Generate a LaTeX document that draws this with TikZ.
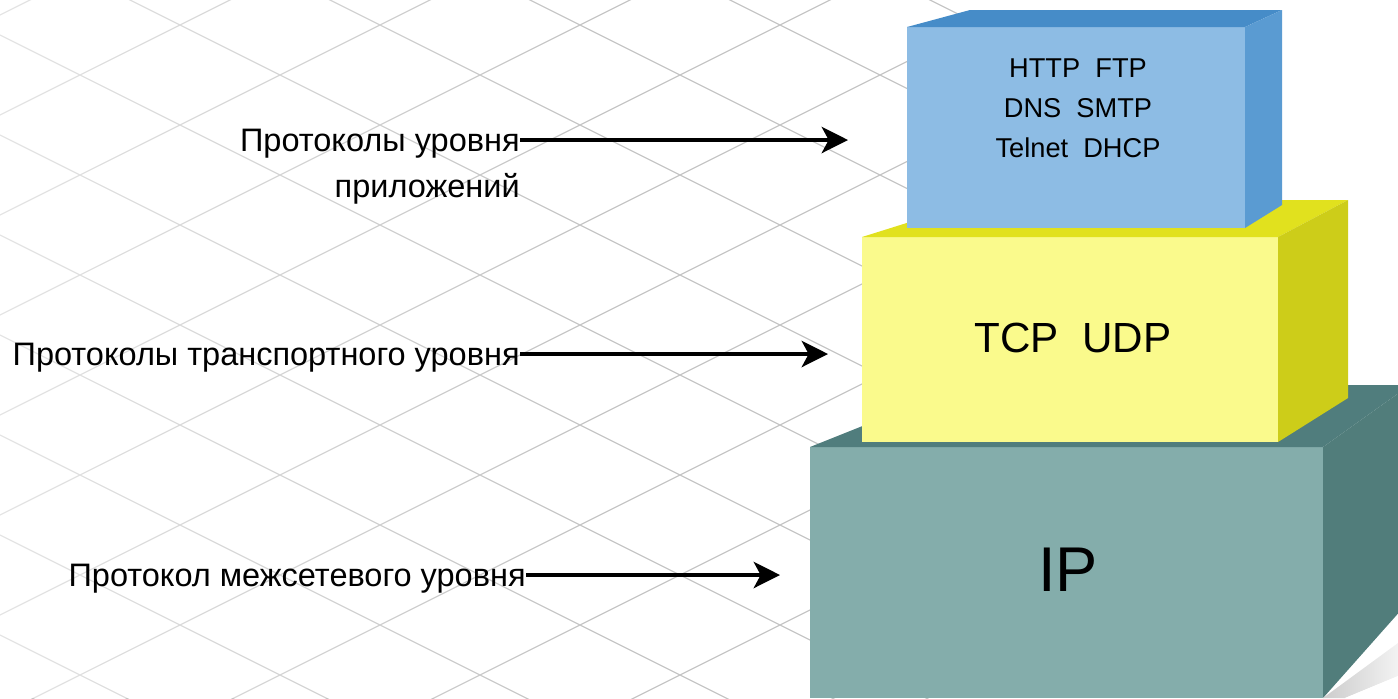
\documentclass[tikz,border=0pt]{standalone}
\usepackage{fontspec}
\setmainfont{Liberation Sans}
\usetikzlibrary{arrows.meta,fadings}

\definecolor{bluefront}{HTML}{8DBCE4}
\definecolor{bluetop}{HTML}{468CC8}
\definecolor{blueside}{HTML}{5A9BD2}
\definecolor{yelfront}{HTML}{FAFA8C}
\definecolor{yeltop}{HTML}{E1E11E}
\definecolor{yelside}{HTML}{CDCD19}
\definecolor{tealfront}{HTML}{84ADAB}
\definecolor{tealtop}{HTML}{507D7D}
\definecolor{tealside}{HTML}{517D7B}

\tikzfading[name=leftfade, left color=transparent!0, right color=transparent!100]

\begin{document}
\begin{tikzpicture}[x=0.02cm, y=-0.02cm,
    lbl/.style={font=\fontsize{18.5}{26}\selectfont, inner sep=0pt,
        text height=13pt, text depth=0pt, anchor=east},
    arr/.style={line width=2pt, -{Stealth[length=15pt, width=15pt, inset=4pt]}},
    gridline/.style={gray!45, line width=0.7pt}]

    \clip (0,0) rectangle (1398,698);

    % background lattice
    \foreach \c in {-465,-365,...,735}
        \draw[gridline] (0,\c) -- (1000,500+\c);
    \foreach \c in {15,115,...,1215}
        \draw[gridline] (0,\c) -- (1000,\c-500);
    \fill[white, fill opacity=0.55, path fading=leftfade] (0,0) rectangle (600,698);

    % IP layer
    \fill[tealfront] (810,447) rectangle (1323,698);
    \fill[tealtop] (810,447) -- (965,385) -- (1410,385) -- (1323,447) -- cycle;
    \fill[tealside] (1323,447) -- (1410,385) -- (1410,600) -- (1323,698) -- cycle;
    \shade[left color=gray!40, right color=gray!10] (1323,698) -- (1398,643) -- (1398,676) -- (1345,698) -- cycle;
    \fill[white] (1345,698) -- (1398,676) -- (1398,698) -- cycle;

    % transport layer
    \fill[yelfront] (862,237) rectangle (1278,442);
    \fill[yeltop] (862,237) -- (980,200) -- (1348,200) -- (1278,237) -- cycle;
    \fill[yelside] (1278,237) -- (1348,200) -- (1348,398) -- (1278,442) -- cycle;

    % application layer
    \fill[bluefront] (907,27) rectangle (1245,228);
    \fill[bluetop] (907,27) -- (970,10) -- (1282,10) -- (1245,27) -- cycle;
    \fill[blueside] (1245,27) -- (1282,10) -- (1282,205) -- (1245,228) -- cycle;

    \node[font=\fontsize{15.5}{22.8}\selectfont, align=center, inner sep=0pt] (appbox) at (1078,108)
        {HTTP~~FTP\\DNS~~SMTP\\Telnet~~DHCP};
    \node[font=\fontsize{24}{28}\selectfont, inner sep=0pt] (tcpbox) at (1073,338) {TCP~~UDP};
    \node[font=\fontsize{36}{40}\selectfont, inner sep=0pt] (ipbox) at (1068,570) {IP};

    % labels
    \node[lbl] (app1) at (520,140) {Протоколы уровня};
    \node[lbl] (app2) at (520,186) {приложений};
    \node[lbl] (trans) at (520,354) {Протоколы транспортного уровня};
    \node[lbl] (inet) at (526,575) {Протокол межсетевого уровня};

    \coordinate (appa) at (848,140);
    \coordinate (transa) at (828,354);
    \coordinate (ineta) at (780,575);

    \draw[arr] (app1.east) -- (appa);
    \draw[arr] (trans.east) -- (transa);
    \draw[arr] (inet.east) -- (ineta);

\end{tikzpicture}
\end{document}
